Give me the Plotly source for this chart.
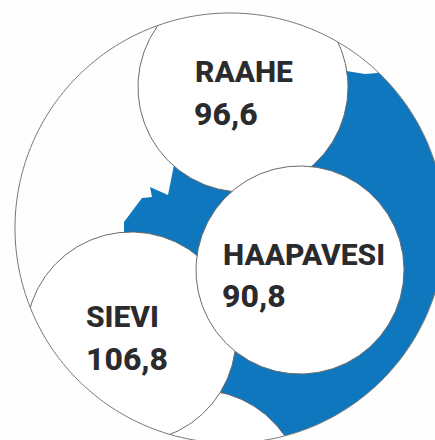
import numpy as np
import plotly.graph_objects as go

# Data
names = ["RAAHE", "HAAPAVESI", "SIEVI"]
values = ["96,6", "90,8", "106,8"]

# Layout geometry (pixel-like plot coordinates)
name_x = [195, 223, 86]
name_y = [74, 257, 319]
value_x = [194, 222, 86]
value_y = [117, 299, 362]

OUTER = (230, 228, 215)
bottom_c = (198, 495, 105)
sievi_c = (131, 337, 105)
raahe_c = (243, 87, 105)
haapavesi_c = (300, 270, 104)

blue_x = [175, 168, 150, 152, 142, 124, 124, 200, 230, 470, 470, 377, 365, 347, 340]
blue_y = [160, 195, 187, 197, 198, 222, 240, 300, 470, 470, 40, 73, 74, 71, 70]

BLUE = "#0f77bd"
LINE = "#6a6a6a"
INK = "#2b2b2e"

t = np.linspace(0, 2 * np.pi, 361)


def circle(c):
    return c[0] + c[2] * np.cos(t), c[1] + c[2] * np.sin(t)


fig = go.Figure()

fig.add_trace(go.Scatter(x=blue_x, y=blue_y, mode="lines", fill="toself",
                         fillcolor=BLUE, line=dict(width=0, color=BLUE), hoverinfo="skip"))

for c in (bottom_c, sievi_c, raahe_c, haapavesi_c):
    cx, cy = circle(c)
    fig.add_trace(go.Scatter(x=cx, y=cy, mode="lines", fill="toself", fillcolor="white",
                             line=dict(width=1, color=LINE), hoverinfo="skip"))

ox, oy = circle(OUTER)
mask_x = [500, 500, -50, -50, 500, 500] + list(ox[::-1])
mask_y = [OUTER[1], 500, 500, -50, -50, OUTER[1]] + list(oy[::-1])
fig.add_trace(go.Scatter(x=mask_x, y=mask_y, mode="lines", fill="toself", fillcolor="#fefefe",
                         line=dict(width=0, color="#fefefe"), hoverinfo="skip"))

fig.add_trace(go.Scatter(x=ox, y=oy, mode="lines", line=dict(width=1, color="#777777", simplify=False),
                         hoverinfo="skip"))

fig.add_trace(go.Scatter(x=name_x, y=name_y, mode="text", text=names, textposition="middle right",
                         textfont=dict(family="Roboto", size=30, color=INK, weight=800),
                         hoverinfo="skip"))
fig.add_trace(go.Scatter(x=value_x, y=value_y, mode="text", text=values, textposition="middle right",
                         textfont=dict(family="Roboto", size=32, color=INK, weight=800),
                         hoverinfo="skip"))

fig.update_layout(
    width=435, height=440, margin=dict(l=0, r=0, t=0, b=0),
    paper_bgcolor="#fefefe", plot_bgcolor="#fefefe", showlegend=False,
    xaxis=dict(range=[0, 435], visible=False, fixedrange=True),
    yaxis=dict(range=[440, 0], visible=False, fixedrange=True),
)
fig.write_html("out.html", config={"displayModeBar": False},
               post_script="document.body.style.margin='0';document.body.style.overflow='hidden';")
